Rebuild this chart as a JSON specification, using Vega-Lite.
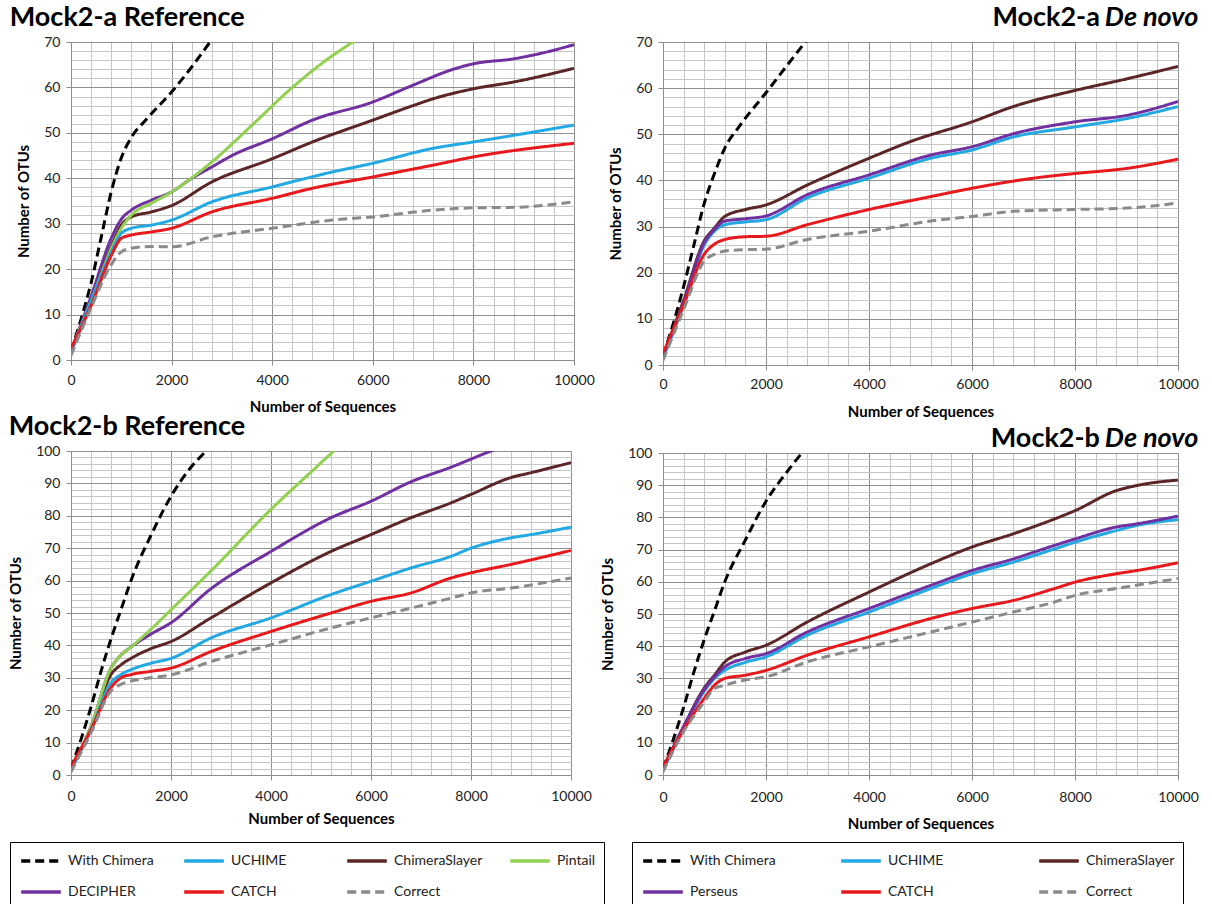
{
  "$schema": "https://vega.github.io/schema/vega-lite/v6.json",
  "padding": {"left": 8, "top": 4, "right": 6, "bottom": 0},
  "background": "white",
  "config": {
    "font": "Lato",
    "view": {"stroke": null},
    "axis": {
      "labelFont": "Lato", "labelFontSize": 14, "labelColor": "#222222",
      "titleFont": "Lato", "titleFontSize": 15, "titleFontWeight": "bold", "titleColor": "#000000",
      "domainColor": "#8c8c8c", "tickColor": "#8c8c8c", "tickSize": 5, "labelOverlap": false, "labelFlush": false
    },
    "title": {"font": "Lato", "fontSize": 27, "fontWeight": "bold", "color": "#000000", "frame": "bounds"},
    "legend": {"labelFont": "Lato", "labelFontSize": 14, "labelColor": "#222222", "symbolType": "M-2.2,0H2.2", "symbolSize": 324, "symbolStrokeWidth": 3.5, "gridAlign": "all", "rowPadding": 13, "padding": 8, "strokeColor": "#000000", "labelLimit": 200, "symbolOffset": 12, "labelOffset": 16, "direction": "horizontal"}
  },
  "datasets": {
    "aref": [
      {"m": "With Chimera", "x": 0, "y": 2}, {"m": "With Chimera", "x": 200, "y": 9}, {"m": "With Chimera", "x": 400, "y": 17}, {"m": "With Chimera", "x": 600, "y": 27}, {"m": "With Chimera", "x": 800, "y": 37}, {"m": "With Chimera", "x": 1000, "y": 44.5}, {"m": "With Chimera", "x": 1200, "y": 49}, {"m": "With Chimera", "x": 1500, "y": 53}, {"m": "With Chimera", "x": 2000, "y": 59}, {"m": "With Chimera", "x": 2400, "y": 64.5}, {"m": "With Chimera", "x": 2800, "y": 70.5}, {"m": "With Chimera", "x": 3200, "y": 76},
      {"m": "DECIPHER", "x": 0, "y": 2}, {"m": "DECIPHER", "x": 400, "y": 14}, {"m": "DECIPHER", "x": 800, "y": 26.8}, {"m": "DECIPHER", "x": 1000, "y": 31}, {"m": "DECIPHER", "x": 1200, "y": 33}, {"m": "DECIPHER", "x": 1600, "y": 35.2}, {"m": "DECIPHER", "x": 2000, "y": 37}, {"m": "DECIPHER", "x": 2400, "y": 40}, {"m": "DECIPHER", "x": 2800, "y": 42.5}, {"m": "DECIPHER", "x": 3200, "y": 45}, {"m": "DECIPHER", "x": 4000, "y": 48.7}, {"m": "DECIPHER", "x": 4800, "y": 52.8}, {"m": "DECIPHER", "x": 6000, "y": 56.8}, {"m": "DECIPHER", "x": 6800, "y": 60.5}, {"m": "DECIPHER", "x": 7600, "y": 64}, {"m": "DECIPHER", "x": 8000, "y": 65.2}, {"m": "DECIPHER", "x": 8800, "y": 66.3}, {"m": "DECIPHER", "x": 9300, "y": 67.4}, {"m": "DECIPHER", "x": 10000, "y": 69.4},
      {"m": "ChimeraSlayer", "x": 0, "y": 2}, {"m": "ChimeraSlayer", "x": 400, "y": 13}, {"m": "ChimeraSlayer", "x": 800, "y": 25}, {"m": "ChimeraSlayer", "x": 1000, "y": 29.7}, {"m": "ChimeraSlayer", "x": 1200, "y": 31.5}, {"m": "ChimeraSlayer", "x": 1600, "y": 32.6}, {"m": "ChimeraSlayer", "x": 2000, "y": 34}, {"m": "ChimeraSlayer", "x": 2800, "y": 39.2}, {"m": "ChimeraSlayer", "x": 4000, "y": 44.3}, {"m": "ChimeraSlayer", "x": 4800, "y": 48}, {"m": "ChimeraSlayer", "x": 6000, "y": 52.8}, {"m": "ChimeraSlayer", "x": 6800, "y": 56}, {"m": "ChimeraSlayer", "x": 7200, "y": 57.5}, {"m": "ChimeraSlayer", "x": 8000, "y": 59.7}, {"m": "ChimeraSlayer", "x": 8800, "y": 61.2}, {"m": "ChimeraSlayer", "x": 10000, "y": 64.2},
      {"m": "Pintail", "x": 0, "y": 2}, {"m": "Pintail", "x": 400, "y": 13}, {"m": "Pintail", "x": 800, "y": 24.5}, {"m": "Pintail", "x": 1000, "y": 29}, {"m": "Pintail", "x": 1200, "y": 31.9}, {"m": "Pintail", "x": 1600, "y": 34.5}, {"m": "Pintail", "x": 2000, "y": 37}, {"m": "Pintail", "x": 2800, "y": 43.6}, {"m": "Pintail", "x": 3600, "y": 51.7}, {"m": "Pintail", "x": 4400, "y": 60}, {"m": "Pintail", "x": 5000, "y": 65.4}, {"m": "Pintail", "x": 5600, "y": 70}, {"m": "Pintail", "x": 6000, "y": 72.8},
      {"m": "UCHIME", "x": 0, "y": 1.5}, {"m": "UCHIME", "x": 400, "y": 13}, {"m": "UCHIME", "x": 800, "y": 23.8}, {"m": "UCHIME", "x": 1000, "y": 27.9}, {"m": "UCHIME", "x": 1200, "y": 29}, {"m": "UCHIME", "x": 1600, "y": 29.7}, {"m": "UCHIME", "x": 2000, "y": 30.8}, {"m": "UCHIME", "x": 2800, "y": 34.8}, {"m": "UCHIME", "x": 4000, "y": 38.1}, {"m": "UCHIME", "x": 5200, "y": 41.4}, {"m": "UCHIME", "x": 6000, "y": 43.3}, {"m": "UCHIME", "x": 7200, "y": 46.6}, {"m": "UCHIME", "x": 8000, "y": 48}, {"m": "UCHIME", "x": 10000, "y": 51.7},
      {"m": "CATCH", "x": 0, "y": 2.5}, {"m": "CATCH", "x": 400, "y": 12}, {"m": "CATCH", "x": 800, "y": 23}, {"m": "CATCH", "x": 1000, "y": 26.8}, {"m": "CATCH", "x": 1200, "y": 27.5}, {"m": "CATCH", "x": 1600, "y": 28.2}, {"m": "CATCH", "x": 2000, "y": 29}, {"m": "CATCH", "x": 2800, "y": 32.6}, {"m": "CATCH", "x": 4000, "y": 35.6}, {"m": "CATCH", "x": 4800, "y": 37.8}, {"m": "CATCH", "x": 6000, "y": 40.3}, {"m": "CATCH", "x": 7200, "y": 42.9}, {"m": "CATCH", "x": 8000, "y": 44.7}, {"m": "CATCH", "x": 10000, "y": 47.7},
      {"m": "Correct", "x": 0, "y": 1}, {"m": "Correct", "x": 400, "y": 11.5}, {"m": "Correct", "x": 800, "y": 21}, {"m": "Correct", "x": 1000, "y": 23.8}, {"m": "Correct", "x": 1200, "y": 24.6}, {"m": "Correct", "x": 1600, "y": 25}, {"m": "Correct", "x": 2000, "y": 24.9}, {"m": "Correct", "x": 2800, "y": 27.1}, {"m": "Correct", "x": 4000, "y": 29}, {"m": "Correct", "x": 5200, "y": 30.8}, {"m": "Correct", "x": 6000, "y": 31.5}, {"m": "Correct", "x": 7200, "y": 33}, {"m": "Correct", "x": 8000, "y": 33.5}, {"m": "Correct", "x": 8800, "y": 33.6}, {"m": "Correct", "x": 10000, "y": 34.8}
    ],
    "adn": [
      {"m": "With Chimera", "x": 0, "y": 2}, {"m": "With Chimera", "x": 200, "y": 9}, {"m": "With Chimera", "x": 400, "y": 17}, {"m": "With Chimera", "x": 600, "y": 26}, {"m": "With Chimera", "x": 800, "y": 35}, {"m": "With Chimera", "x": 1000, "y": 41.5}, {"m": "With Chimera", "x": 1200, "y": 47}, {"m": "With Chimera", "x": 1500, "y": 52}, {"m": "With Chimera", "x": 2000, "y": 59}, {"m": "With Chimera", "x": 2400, "y": 64.8}, {"m": "With Chimera", "x": 2800, "y": 70.5}, {"m": "With Chimera", "x": 3200, "y": 76},
      {"m": "ChimeraSlayer", "x": 0, "y": 2}, {"m": "ChimeraSlayer", "x": 400, "y": 14}, {"m": "ChimeraSlayer", "x": 800, "y": 26.9}, {"m": "ChimeraSlayer", "x": 1000, "y": 29.7}, {"m": "ChimeraSlayer", "x": 1200, "y": 32.2}, {"m": "ChimeraSlayer", "x": 1600, "y": 33.7}, {"m": "ChimeraSlayer", "x": 2000, "y": 34.7}, {"m": "ChimeraSlayer", "x": 2800, "y": 39}, {"m": "ChimeraSlayer", "x": 4000, "y": 44.8}, {"m": "ChimeraSlayer", "x": 4800, "y": 48.4}, {"m": "ChimeraSlayer", "x": 6000, "y": 52.7}, {"m": "ChimeraSlayer", "x": 6800, "y": 56}, {"m": "ChimeraSlayer", "x": 8000, "y": 59.5}, {"m": "ChimeraSlayer", "x": 9000, "y": 62}, {"m": "ChimeraSlayer", "x": 10000, "y": 64.7},
      {"m": "UCHIME", "x": 0, "y": 1.5}, {"m": "UCHIME", "x": 400, "y": 13}, {"m": "UCHIME", "x": 800, "y": 26}, {"m": "UCHIME", "x": 1000, "y": 29}, {"m": "UCHIME", "x": 1200, "y": 30.4}, {"m": "UCHIME", "x": 1600, "y": 31}, {"m": "UCHIME", "x": 2000, "y": 31.5}, {"m": "UCHIME", "x": 2800, "y": 36.2}, {"m": "UCHIME", "x": 4000, "y": 40.5}, {"m": "UCHIME", "x": 5200, "y": 44.8}, {"m": "UCHIME", "x": 6000, "y": 46.6}, {"m": "UCHIME", "x": 6800, "y": 49.4}, {"m": "UCHIME", "x": 8000, "y": 51.6}, {"m": "UCHIME", "x": 9000, "y": 53.4}, {"m": "UCHIME", "x": 10000, "y": 56},
      {"m": "Perseus", "x": 0, "y": 2}, {"m": "Perseus", "x": 400, "y": 13.5}, {"m": "Perseus", "x": 800, "y": 26.5}, {"m": "Perseus", "x": 1000, "y": 29.4}, {"m": "Perseus", "x": 1200, "y": 31.2}, {"m": "Perseus", "x": 1600, "y": 31.7}, {"m": "Perseus", "x": 2000, "y": 32.3}, {"m": "Perseus", "x": 2800, "y": 36.9}, {"m": "Perseus", "x": 4000, "y": 41.2}, {"m": "Perseus", "x": 5200, "y": 45.5}, {"m": "Perseus", "x": 6000, "y": 47.3}, {"m": "Perseus", "x": 6800, "y": 50.1}, {"m": "Perseus", "x": 8000, "y": 52.7}, {"m": "Perseus", "x": 9000, "y": 54.1}, {"m": "Perseus", "x": 10000, "y": 57.1},
      {"m": "CATCH", "x": 0, "y": 2.5}, {"m": "CATCH", "x": 400, "y": 13}, {"m": "CATCH", "x": 800, "y": 24}, {"m": "CATCH", "x": 1000, "y": 26.2}, {"m": "CATCH", "x": 1200, "y": 27.2}, {"m": "CATCH", "x": 1600, "y": 27.8}, {"m": "CATCH", "x": 2000, "y": 27.9}, {"m": "CATCH", "x": 2800, "y": 30.4}, {"m": "CATCH", "x": 4000, "y": 33.7}, {"m": "CATCH", "x": 5200, "y": 36.5}, {"m": "CATCH", "x": 6000, "y": 38.3}, {"m": "CATCH", "x": 7200, "y": 40.5}, {"m": "CATCH", "x": 8000, "y": 41.5}, {"m": "CATCH", "x": 9000, "y": 42.6}, {"m": "CATCH", "x": 10000, "y": 44.6},
      {"m": "Correct", "x": 0, "y": 1}, {"m": "Correct", "x": 400, "y": 12}, {"m": "Correct", "x": 800, "y": 22.5}, {"m": "Correct", "x": 1000, "y": 24}, {"m": "Correct", "x": 1200, "y": 24.7}, {"m": "Correct", "x": 1600, "y": 25}, {"m": "Correct", "x": 2000, "y": 25.1}, {"m": "Correct", "x": 2800, "y": 27.2}, {"m": "Correct", "x": 4000, "y": 29}, {"m": "Correct", "x": 5200, "y": 31.2}, {"m": "Correct", "x": 6000, "y": 32.2}, {"m": "Correct", "x": 6800, "y": 33.3}, {"m": "Correct", "x": 8000, "y": 33.7}, {"m": "Correct", "x": 9000, "y": 34}, {"m": "Correct", "x": 10000, "y": 35.1}
    ],
    "bref": [
      {"m": "With Chimera", "x": 0, "y": 2}, {"m": "With Chimera", "x": 200, "y": 11}, {"m": "With Chimera", "x": 400, "y": 21}, {"m": "With Chimera", "x": 600, "y": 32}, {"m": "With Chimera", "x": 800, "y": 42}, {"m": "With Chimera", "x": 1000, "y": 51}, {"m": "With Chimera", "x": 1200, "y": 60}, {"m": "With Chimera", "x": 1600, "y": 74}, {"m": "With Chimera", "x": 2000, "y": 86}, {"m": "With Chimera", "x": 2400, "y": 95}, {"m": "With Chimera", "x": 2700, "y": 100}, {"m": "With Chimera", "x": 3000, "y": 105},
      {"m": "DECIPHER", "x": 0, "y": 2}, {"m": "DECIPHER", "x": 400, "y": 15}, {"m": "DECIPHER", "x": 800, "y": 33}, {"m": "DECIPHER", "x": 1000, "y": 37}, {"m": "DECIPHER", "x": 1200, "y": 39.5}, {"m": "DECIPHER", "x": 1600, "y": 43.5}, {"m": "DECIPHER", "x": 2000, "y": 47}, {"m": "DECIPHER", "x": 2800, "y": 57.5}, {"m": "DECIPHER", "x": 4000, "y": 69}, {"m": "DECIPHER", "x": 5200, "y": 79.4}, {"m": "DECIPHER", "x": 6000, "y": 84.5}, {"m": "DECIPHER", "x": 6800, "y": 90.5}, {"m": "DECIPHER", "x": 7600, "y": 95}, {"m": "DECIPHER", "x": 8400, "y": 100}, {"m": "DECIPHER", "x": 9000, "y": 103.5},
      {"m": "ChimeraSlayer", "x": 0, "y": 2}, {"m": "ChimeraSlayer", "x": 400, "y": 14.5}, {"m": "ChimeraSlayer", "x": 800, "y": 31}, {"m": "ChimeraSlayer", "x": 1000, "y": 34}, {"m": "ChimeraSlayer", "x": 1200, "y": 36}, {"m": "ChimeraSlayer", "x": 1600, "y": 39}, {"m": "ChimeraSlayer", "x": 2000, "y": 41.2}, {"m": "ChimeraSlayer", "x": 2800, "y": 48.5}, {"m": "ChimeraSlayer", "x": 4000, "y": 59.3}, {"m": "ChimeraSlayer", "x": 5200, "y": 69}, {"m": "ChimeraSlayer", "x": 6000, "y": 74.2}, {"m": "ChimeraSlayer", "x": 6800, "y": 79.4}, {"m": "ChimeraSlayer", "x": 7600, "y": 84}, {"m": "ChimeraSlayer", "x": 8000, "y": 86.6}, {"m": "ChimeraSlayer", "x": 8800, "y": 91.8}, {"m": "ChimeraSlayer", "x": 9200, "y": 93.3}, {"m": "ChimeraSlayer", "x": 10000, "y": 96.4},
      {"m": "Pintail", "x": 0, "y": 2}, {"m": "Pintail", "x": 400, "y": 15}, {"m": "Pintail", "x": 800, "y": 33}, {"m": "Pintail", "x": 1000, "y": 37}, {"m": "Pintail", "x": 1200, "y": 39.5}, {"m": "Pintail", "x": 1600, "y": 45}, {"m": "Pintail", "x": 2000, "y": 51}, {"m": "Pintail", "x": 2800, "y": 63}, {"m": "Pintail", "x": 4000, "y": 82}, {"m": "Pintail", "x": 4800, "y": 93.5}, {"m": "Pintail", "x": 5300, "y": 100.5}, {"m": "Pintail", "x": 5600, "y": 104},
      {"m": "UCHIME", "x": 0, "y": 1.5}, {"m": "UCHIME", "x": 400, "y": 14}, {"m": "UCHIME", "x": 800, "y": 28.5}, {"m": "UCHIME", "x": 1000, "y": 31}, {"m": "UCHIME", "x": 1200, "y": 32.5}, {"m": "UCHIME", "x": 1600, "y": 34.5}, {"m": "UCHIME", "x": 2000, "y": 36}, {"m": "UCHIME", "x": 2800, "y": 42.3}, {"m": "UCHIME", "x": 4000, "y": 48.5}, {"m": "UCHIME", "x": 5200, "y": 55.7}, {"m": "UCHIME", "x": 6000, "y": 59.8}, {"m": "UCHIME", "x": 6800, "y": 63.9}, {"m": "UCHIME", "x": 7600, "y": 67.5}, {"m": "UCHIME", "x": 8000, "y": 70}, {"m": "UCHIME", "x": 8800, "y": 73.2}, {"m": "UCHIME", "x": 9200, "y": 74.2}, {"m": "UCHIME", "x": 10000, "y": 76.5},
      {"m": "CATCH", "x": 0, "y": 2.5}, {"m": "CATCH", "x": 400, "y": 14}, {"m": "CATCH", "x": 800, "y": 27}, {"m": "CATCH", "x": 1000, "y": 30}, {"m": "CATCH", "x": 1200, "y": 31}, {"m": "CATCH", "x": 1600, "y": 32}, {"m": "CATCH", "x": 2000, "y": 33}, {"m": "CATCH", "x": 2800, "y": 38.1}, {"m": "CATCH", "x": 4000, "y": 44.3}, {"m": "CATCH", "x": 5200, "y": 50}, {"m": "CATCH", "x": 6000, "y": 53.6}, {"m": "CATCH", "x": 6800, "y": 56.2}, {"m": "CATCH", "x": 7600, "y": 60.8}, {"m": "CATCH", "x": 8000, "y": 62.4}, {"m": "CATCH", "x": 8800, "y": 65}, {"m": "CATCH", "x": 10000, "y": 69.3},
      {"m": "Correct", "x": 0, "y": 1}, {"m": "Correct", "x": 400, "y": 13}, {"m": "Correct", "x": 800, "y": 26}, {"m": "Correct", "x": 1000, "y": 28}, {"m": "Correct", "x": 1200, "y": 29}, {"m": "Correct", "x": 1600, "y": 30}, {"m": "Correct", "x": 2000, "y": 30.9}, {"m": "Correct", "x": 2800, "y": 35}, {"m": "Correct", "x": 4000, "y": 40.2}, {"m": "Correct", "x": 5200, "y": 45.4}, {"m": "Correct", "x": 6000, "y": 48.5}, {"m": "Correct", "x": 6800, "y": 51.5}, {"m": "Correct", "x": 7600, "y": 54.6}, {"m": "Correct", "x": 8000, "y": 56.2}, {"m": "Correct", "x": 8800, "y": 57.7}, {"m": "Correct", "x": 10000, "y": 60.8}
    ],
    "bdn": [
      {"m": "With Chimera", "x": 0, "y": 2}, {"m": "With Chimera", "x": 200, "y": 11}, {"m": "With Chimera", "x": 400, "y": 21}, {"m": "With Chimera", "x": 600, "y": 32}, {"m": "With Chimera", "x": 800, "y": 42}, {"m": "With Chimera", "x": 1000, "y": 51}, {"m": "With Chimera", "x": 1200, "y": 60}, {"m": "With Chimera", "x": 1600, "y": 73}, {"m": "With Chimera", "x": 2000, "y": 85}, {"m": "With Chimera", "x": 2400, "y": 94}, {"m": "With Chimera", "x": 2700, "y": 100}, {"m": "With Chimera", "x": 3000, "y": 105},
      {"m": "ChimeraSlayer", "x": 0, "y": 2}, {"m": "ChimeraSlayer", "x": 400, "y": 15}, {"m": "ChimeraSlayer", "x": 800, "y": 27}, {"m": "ChimeraSlayer", "x": 1000, "y": 31}, {"m": "ChimeraSlayer", "x": 1200, "y": 35.1}, {"m": "ChimeraSlayer", "x": 1600, "y": 38.2}, {"m": "ChimeraSlayer", "x": 2000, "y": 40.3}, {"m": "ChimeraSlayer", "x": 2800, "y": 47.5}, {"m": "ChimeraSlayer", "x": 4000, "y": 56.8}, {"m": "ChimeraSlayer", "x": 5200, "y": 65.6}, {"m": "ChimeraSlayer", "x": 6000, "y": 70.8}, {"m": "ChimeraSlayer", "x": 6800, "y": 74.9}, {"m": "ChimeraSlayer", "x": 7600, "y": 79.5}, {"m": "ChimeraSlayer", "x": 8000, "y": 82.1}, {"m": "ChimeraSlayer", "x": 8800, "y": 88.3}, {"m": "ChimeraSlayer", "x": 9200, "y": 89.9}, {"m": "ChimeraSlayer", "x": 10000, "y": 91.6},
      {"m": "UCHIME", "x": 0, "y": 1.5}, {"m": "UCHIME", "x": 400, "y": 14.5}, {"m": "UCHIME", "x": 800, "y": 26}, {"m": "UCHIME", "x": 1000, "y": 30}, {"m": "UCHIME", "x": 1200, "y": 32.5}, {"m": "UCHIME", "x": 1600, "y": 35}, {"m": "UCHIME", "x": 2000, "y": 36.7}, {"m": "UCHIME", "x": 2800, "y": 43.4}, {"m": "UCHIME", "x": 4000, "y": 50.6}, {"m": "UCHIME", "x": 5200, "y": 57.9}, {"m": "UCHIME", "x": 6000, "y": 62.5}, {"m": "UCHIME", "x": 6800, "y": 66.1}, {"m": "UCHIME", "x": 7600, "y": 70.2}, {"m": "UCHIME", "x": 8000, "y": 72.3}, {"m": "UCHIME", "x": 8800, "y": 75.9}, {"m": "UCHIME", "x": 9200, "y": 77.5}, {"m": "UCHIME", "x": 10000, "y": 79.3},
      {"m": "Perseus", "x": 0, "y": 2}, {"m": "Perseus", "x": 400, "y": 15}, {"m": "Perseus", "x": 800, "y": 26.5}, {"m": "Perseus", "x": 1000, "y": 30.5}, {"m": "Perseus", "x": 1200, "y": 33.6}, {"m": "Perseus", "x": 1600, "y": 36.2}, {"m": "Perseus", "x": 2000, "y": 37.7}, {"m": "Perseus", "x": 2800, "y": 44.4}, {"m": "Perseus", "x": 4000, "y": 51.7}, {"m": "Perseus", "x": 5200, "y": 58.9}, {"m": "Perseus", "x": 6000, "y": 63.5}, {"m": "Perseus", "x": 6800, "y": 67.1}, {"m": "Perseus", "x": 7600, "y": 71.3}, {"m": "Perseus", "x": 8000, "y": 73.3}, {"m": "Perseus", "x": 8800, "y": 77}, {"m": "Perseus", "x": 9200, "y": 78}, {"m": "Perseus", "x": 10000, "y": 80.4},
      {"m": "CATCH", "x": 0, "y": 2.5}, {"m": "CATCH", "x": 400, "y": 14}, {"m": "CATCH", "x": 800, "y": 23.8}, {"m": "CATCH", "x": 1000, "y": 27.9}, {"m": "CATCH", "x": 1200, "y": 30}, {"m": "CATCH", "x": 1600, "y": 31}, {"m": "CATCH", "x": 2000, "y": 32.5}, {"m": "CATCH", "x": 2800, "y": 37.2}, {"m": "CATCH", "x": 4000, "y": 42.9}, {"m": "CATCH", "x": 5200, "y": 48.6}, {"m": "CATCH", "x": 6000, "y": 51.7}, {"m": "CATCH", "x": 6800, "y": 54.2}, {"m": "CATCH", "x": 7600, "y": 57.9}, {"m": "CATCH", "x": 8000, "y": 59.9}, {"m": "CATCH", "x": 8800, "y": 62.5}, {"m": "CATCH", "x": 9200, "y": 63.5}, {"m": "CATCH", "x": 10000, "y": 65.9},
      {"m": "Correct", "x": 0, "y": 1}, {"m": "Correct", "x": 400, "y": 13.5}, {"m": "Correct", "x": 800, "y": 22.7}, {"m": "Correct", "x": 1000, "y": 26.9}, {"m": "Correct", "x": 1200, "y": 27.9}, {"m": "Correct", "x": 1600, "y": 29.5}, {"m": "Correct", "x": 2000, "y": 30.5}, {"m": "Correct", "x": 2800, "y": 35.1}, {"m": "Correct", "x": 4000, "y": 39.8}, {"m": "Correct", "x": 5200, "y": 44.4}, {"m": "Correct", "x": 6000, "y": 47.5}, {"m": "Correct", "x": 6800, "y": 50.6}, {"m": "Correct", "x": 7600, "y": 53.7}, {"m": "Correct", "x": 8000, "y": 55.8}, {"m": "Correct", "x": 8800, "y": 57.9}, {"m": "Correct", "x": 10000, "y": 61}
    ]
  },
  "hconcat": [
    {
      "spacing": -1,
      "vconcat": [
        {
          "width": 503, "height": 318,
          "title": {"text": "Mock2-a Reference", "anchor": "start", "offset": 3, "dx": -7},
          "data": {"name": "aref"},
          "mark": {"type": "line", "interpolate": "monotone", "strokeWidth": 3, "clip": true},
          "encoding": {
            "x": {"field": "x", "type": "quantitative", "title": "Number of Sequences", "scale": {"domain": [0, 10000], "nice": false},
              "axis": {"values": [0,400,800,1200,1600,2000,2400,2800,3200,3600,4000,4400,4800,5200,5600,6000,6400,6800,7200,7600,8000,8400,8800,9200,9600,10000], "format": "d", "grid": true,
                "gridColor": {"condition": {"test": "datum.value % 2000 === 0", "value": "#8f8f8f"}, "value": "#c6c6c6"},
                "tickOpacity": {"condition": {"test": "datum.value % 2000 === 0", "value": 1}, "value": 0},
                "labelExpr": "datum.value % 2000 === 0 ? datum.label : ''", "labelPadding": 8, "titlePadding": 12}},
            "y": {"field": "y", "type": "quantitative", "title": "Number of OTUs", "scale": {"domain": [0, 70], "nice": false},
              "axis": {"values": [0,2,4,6,8,10,12,14,16,18,20,22,24,26,28,30,32,34,36,38,40,42,44,46,48,50,52,54,56,58,60,62,64,66,68,70], "grid": true,
                "gridColor": {"condition": {"test": "datum.value % 10 === 0", "value": "#8f8f8f"}, "value": "#c6c6c6"},
                "tickOpacity": {"condition": {"test": "datum.value % 10 === 0", "value": 1}, "value": 0},
                "labelExpr": "datum.value % 10 === 0 ? datum.label : ''", "labelPadding": 6, "titlePadding": 12}},
            "color": {"field": "m", "type": "nominal", "title": null,
              "scale": {"domain": ["With Chimera", "UCHIME", "ChimeraSlayer", "Pintail", "DECIPHER", "CATCH", "Correct"], "range": ["#000000", "#22a8e2", "#5c2626", "#92d050", "#7030a0", "#e8191c", "#8a8a8a"]},
              "legend": {"orient": "none", "legendX": -61, "legendY": 800, "columns": 4, "columnPadding": 20}},
            "strokeDash": {"field": "m", "type": "nominal", "title": null,
              "scale": {"domain": ["With Chimera", "UCHIME", "ChimeraSlayer", "Pintail", "DECIPHER", "CATCH", "Correct"], "range": [[9, 5], [1, 0], [1, 0], [1, 0], [1, 0], [1, 0], [9, 5]]},
              "legend": {"orient": "none", "legendX": -61, "legendY": 800, "columns": 4, "columnPadding": 20}}
          }
        },
        {
          "width": 500, "height": 324,
          "title": {"text": "Mock2-b Reference", "anchor": "start", "offset": 3},
          "data": {"name": "bref"},
          "mark": {"type": "line", "interpolate": "monotone", "strokeWidth": 3, "clip": true},
          "encoding": {
            "x": {"field": "x", "type": "quantitative", "title": "Number of Sequences", "scale": {"domain": [0, 10000], "nice": false},
              "axis": {"values": [0,400,800,1200,1600,2000,2400,2800,3200,3600,4000,4400,4800,5200,5600,6000,6400,6800,7200,7600,8000,8400,8800,9200,9600,10000], "format": "d", "grid": true,
                "gridColor": {"condition": {"test": "datum.value % 2000 === 0", "value": "#8f8f8f"}, "value": "#c6c6c6"},
                "tickOpacity": {"condition": {"test": "datum.value % 2000 === 0", "value": 1}, "value": 0},
                "labelExpr": "datum.value % 2000 === 0 ? datum.label : ''", "labelPadding": 9, "titlePadding": 8}},
            "y": {"field": "y", "type": "quantitative", "title": "Number of OTUs", "scale": {"domain": [0, 100], "nice": false},
              "axis": {"values": [0,2,4,6,8,10,12,14,16,18,20,22,24,26,28,30,32,34,36,38,40,42,44,46,48,50,52,54,56,58,60,62,64,66,68,70,72,74,76,78,80,82,84,86,88,90,92,94,96,98,100], "grid": true,
                "gridColor": {"condition": {"test": "datum.value % 10 === 0", "value": "#8f8f8f"}, "value": "#c6c6c6"},
                "tickOpacity": {"condition": {"test": "datum.value % 10 === 0", "value": 1}, "value": 0},
                "labelExpr": "datum.value % 10 === 0 ? datum.label : ''", "labelPadding": 6, "titlePadding": 12}},
            "color": {"field": "m", "type": "nominal", "title": null,
              "scale": {"domain": ["With Chimera", "UCHIME", "ChimeraSlayer", "Pintail", "DECIPHER", "CATCH", "Correct"], "range": ["#000000", "#22a8e2", "#5c2626", "#92d050", "#7030a0", "#e8191c", "#8a8a8a"]},
              "legend": {"orient": "none", "legendX": -61, "legendY": 800, "columns": 4, "columnPadding": 20}},
            "strokeDash": {"field": "m", "type": "nominal", "title": null,
              "scale": {"domain": ["With Chimera", "UCHIME", "ChimeraSlayer", "Pintail", "DECIPHER", "CATCH", "Correct"], "range": [[9, 5], [1, 0], [1, 0], [1, 0], [1, 0], [1, 0], [9, 5]]},
              "legend": {"orient": "none", "legendX": -61, "legendY": 800, "columns": 4, "columnPadding": 20}}
          }
        }
      ]
    },
    {
      "spacing": 6,
      "vconcat": [
        {
          "width": 515, "height": 323,
          "title": {"text": "Mock2-a\u00a0\u00a0\u00a0\u00a0\u00a0\u00a0\u00a0\u00a0\u00a0\u00a0\u00a0\u00a0\u00a0\u00a0\u00a0\u200b", "anchor": "end", "offset": 3, "subtitle": "De novo", "subtitleFont": "Lato", "subtitleFontSize": 27, "subtitleFontWeight": "bold", "subtitleFontStyle": "italic", "subtitleColor": "#000000", "subtitlePadding": -27},
          "data": {"name": "adn"},
          "mark": {"type": "line", "interpolate": "monotone", "strokeWidth": 3, "clip": true},
          "encoding": {
            "x": {"field": "x", "type": "quantitative", "title": "Number of Sequences", "scale": {"domain": [0, 10000], "nice": false},
              "axis": {"values": [0,400,800,1200,1600,2000,2400,2800,3200,3600,4000,4400,4800,5200,5600,6000,6400,6800,7200,7600,8000,8400,8800,9200,9600,10000], "format": "d", "grid": true,
                "gridColor": {"condition": {"test": "datum.value % 2000 === 0", "value": "#8f8f8f"}, "value": "#c6c6c6"},
                "tickOpacity": {"condition": {"test": "datum.value % 2000 === 0", "value": 1}, "value": 0},
                "labelExpr": "datum.value % 2000 === 0 ? datum.label : ''", "labelPadding": 7, "titlePadding": 13}},
            "y": {"field": "y", "type": "quantitative", "title": "Number of OTUs", "scale": {"domain": [0, 70], "nice": false},
              "axis": {"values": [0,2,4,6,8,10,12,14,16,18,20,22,24,26,28,30,32,34,36,38,40,42,44,46,48,50,52,54,56,58,60,62,64,66,68,70], "grid": true,
                "gridColor": {"condition": {"test": "datum.value % 10 === 0", "value": "#8f8f8f"}, "value": "#c6c6c6"},
                "tickOpacity": {"condition": {"test": "datum.value % 10 === 0", "value": 1}, "value": 0},
                "labelExpr": "datum.value % 10 === 0 ? datum.label : ''", "labelPadding": 6, "titlePadding": 12}},
            "color": {"field": "m", "type": "nominal", "title": null,
              "scale": {"domain": ["With Chimera", "UCHIME", "ChimeraSlayer", "Perseus", "CATCH", "Correct"], "range": ["#000000", "#22a8e2", "#5c2626", "#7030a0", "#e8191c", "#8a8a8a"]},
              "legend": {"orient": "none", "legendX": -31, "legendY": 800, "columns": 3, "columnPadding": 55}},
            "strokeDash": {"field": "m", "type": "nominal", "title": null,
              "scale": {"domain": ["With Chimera", "UCHIME", "ChimeraSlayer", "Perseus", "CATCH", "Correct"], "range": [[9, 5], [1, 0], [1, 0], [1, 0], [1, 0], [9, 5]]},
              "legend": {"orient": "none", "legendX": -31, "legendY": 800, "columns": 3, "columnPadding": 55}}
          }
        },
        {
          "width": 515, "height": 322,
          "title": {"text": "Mock2-b\u00a0\u00a0\u00a0\u00a0\u00a0\u00a0\u00a0\u00a0\u00a0\u00a0\u00a0\u00a0\u00a0\u00a0\u00a0\u200b", "anchor": "end", "offset": -7, "subtitle": "De novo", "subtitleFont": "Lato", "subtitleFontSize": 27, "subtitleFontWeight": "bold", "subtitleFontStyle": "italic", "subtitleColor": "#000000", "subtitlePadding": -27},
          "data": {"name": "bdn"},
          "mark": {"type": "line", "interpolate": "monotone", "strokeWidth": 3, "clip": true},
          "encoding": {
            "x": {"field": "x", "type": "quantitative", "title": "Number of Sequences", "scale": {"domain": [0, 10000], "nice": false},
              "axis": {"values": [0,400,800,1200,1600,2000,2400,2800,3200,3600,4000,4400,4800,5200,5600,6000,6400,6800,7200,7600,8000,8400,8800,9200,9600,10000], "format": "d", "grid": true,
                "gridColor": {"condition": {"test": "datum.value % 2000 === 0", "value": "#8f8f8f"}, "value": "#c6c6c6"},
                "tickOpacity": {"condition": {"test": "datum.value % 2000 === 0", "value": 1}, "value": 0},
                "labelExpr": "datum.value % 2000 === 0 ? datum.label : ''", "labelPadding": 10, "titlePadding": 12}},
            "y": {"field": "y", "type": "quantitative", "title": "Number of OTUs", "scale": {"domain": [0, 100], "nice": false},
              "axis": {"values": [0,2,4,6,8,10,12,14,16,18,20,22,24,26,28,30,32,34,36,38,40,42,44,46,48,50,52,54,56,58,60,62,64,66,68,70,72,74,76,78,80,82,84,86,88,90,92,94,96,98,100], "grid": true,
                "gridColor": {"condition": {"test": "datum.value % 10 === 0", "value": "#8f8f8f"}, "value": "#c6c6c6"},
                "tickOpacity": {"condition": {"test": "datum.value % 10 === 0", "value": 1}, "value": 0},
                "labelExpr": "datum.value % 10 === 0 ? datum.label : ''", "labelPadding": 6, "titlePadding": 12}},
            "color": {"field": "m", "type": "nominal", "title": null,
              "scale": {"domain": ["With Chimera", "UCHIME", "ChimeraSlayer", "Perseus", "CATCH", "Correct"], "range": ["#000000", "#22a8e2", "#5c2626", "#7030a0", "#e8191c", "#8a8a8a"]},
              "legend": {"orient": "none", "legendX": -31, "legendY": 800, "columns": 3, "columnPadding": 55}},
            "strokeDash": {"field": "m", "type": "nominal", "title": null,
              "scale": {"domain": ["With Chimera", "UCHIME", "ChimeraSlayer", "Perseus", "CATCH", "Correct"], "range": [[9, 5], [1, 0], [1, 0], [1, 0], [1, 0], [9, 5]]},
              "legend": {"orient": "none", "legendX": -31, "legendY": 800, "columns": 3, "columnPadding": 55}}
          }
        }
      ]
    }
  ],
  "spacing": -5,
  "resolve": {"scale": {"color": "independent", "strokeDash": "independent"}}
}
